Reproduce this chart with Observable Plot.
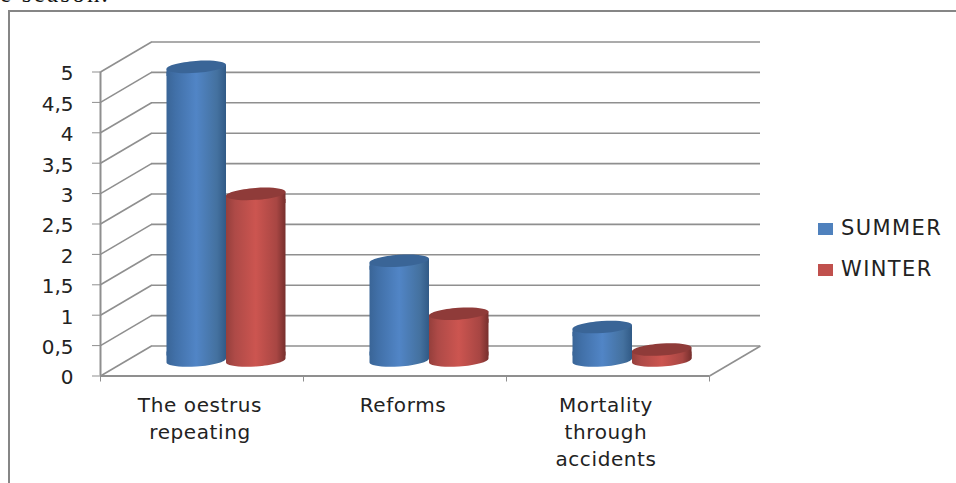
<!DOCTYPE html>
<html>
<head>
<meta charset="utf-8">
<script src="https://cdn.jsdelivr.net/npm/d3@7"></script>
<script src="https://cdn.jsdelivr.net/npm/@observablehq/plot@0.6"></script>
<style>
  html, body { margin: 0; padding: 0; background: #fff; overflow: hidden; }
  #page { position: relative; width: 956px; height: 483px; overflow: hidden; font-family: "DejaVu Sans", sans-serif; color: #222; }
  #above { position: absolute; left: 0; top: -20px; font: 25px "Liberation Serif", serif; letter-spacing: 2.2px; color: #111; white-space: pre; }
  #box { position: absolute; left: 8px; top: 10px; right: -4px; bottom: -4px; border: 2px solid #868686; }
  #plot { position: absolute; left: 0; top: 0; }
  #plot g[aria-label="text"] { letter-spacing: 0.6px; }
  .key { position: absolute; left: 818px; height: 24px; line-height: 24px; font-size: 21px; letter-spacing: 1.4px; white-space: nowrap; }
  .key i { display: inline-block; width: 15px; height: 12px; margin-right: 8px; }
</style>
</head>
<body>
<div id="page">
  <div id="above">e season.</div>
  <div id="box"></div>
  <div id="plot"></div>
  <div class="key" style="top:216px"><i style="background:#4f81bd"></i>SUMMER</div>
  <div class="key" style="top:257px"><i style="background:#c0504d"></i>WINTER</div>
</div>
<script>
// Three outcomes compared between the two seasons
const categories = ["The oestrus\nrepeating", "Reforms", "Mortality\nthrough\naccidents"];
const summer = [4.83, 1.64, 0.55];
const winter = [2.74, 0.77, 0.18];
const yTicks = [0, 0.5, 1, 1.5, 2, 2.5, 3, 3.5, 4, 4.5, 5];
const xTicks = [0, 1, 2, 3];

// Oblique projection: depth of the back wall, in data units of each axis
const depthX = 51 / 203;
const depthY = 30 / 60.8;
// Columns stand halfway into the depth
const midDx = 25, midDy = -15;
// Column width and the gap before the first column, in category units
const colW = 59.5 / 203;
const lead = 41.5 / 203;

const gridColor = "#8f8f8f";

// Outline helpers for a slightly tilted cylinder end
const tilt = -4 * Math.PI / 180;
const rot = (a, b) => [a * Math.cos(tilt) - b * Math.sin(tilt), a * Math.sin(tilt) + b * Math.cos(tilt)];
const K = 0.5522848;
const radius = size => Math.sqrt(size / Math.PI);
const side = 7;

// Full ellipse: the visible top of a cylinder
const ellipse = {
  draw(ctx, size) {
    const rx = radius(size), ry = rx * 0.2;
    ctx.moveTo(...rot(rx, 0));
    ctx.bezierCurveTo(...rot(rx, K * ry), ...rot(K * rx, ry), ...rot(0, ry));
    ctx.bezierCurveTo(...rot(-K * rx, ry), ...rot(-rx, K * ry), ...rot(-rx, 0));
    ctx.bezierCurveTo(...rot(-rx, -K * ry), ...rot(-K * rx, -ry), ...rot(0, -ry));
    ctx.bezierCurveTo(...rot(K * rx, -ry), ...rot(rx, -K * ry), ...rot(rx, 0));
    ctx.closePath();
  }
};

// Straight sides closing on the lower half of the ellipse: the foot of a cylinder
const foot = {
  draw(ctx, size) {
    const rx = radius(size), ry = rx * 0.2;
    const [xr, yr] = rot(rx, 0);
    const [xl, yl] = rot(-rx, 0);
    ctx.moveTo(xr, yr - side);
    ctx.lineTo(xr, yr);
    ctx.bezierCurveTo(...rot(rx, K * ry), ...rot(K * rx, ry), ...rot(0, ry));
    ctx.bezierCurveTo(...rot(-K * rx, ry), ...rot(-rx, K * ry), xl, yl);
    ctx.lineTo(xl, yr - side);
    ctx.closePath();
  }
};

// Straight sides hanging from the ellipse tips: fills the tilt under the top
const collar = {
  draw(ctx, size) {
    const rx = radius(size);
    const [xr, yr] = rot(rx, 0);
    const [xl, yl] = rot(-rx, 0);
    ctx.moveTo(xr, yr);
    ctx.lineTo(xr, yl + side);
    ctx.lineTo(xl, yl + side);
    ctx.lineTo(xl, yl);
    ctx.closePath();
  }
};

// Horizontal shading that makes a flat rectangle read as a cylinder
function gradients() {
  const defs = d3.create("svg:defs");
  const add = (id, stops) => {
    const g = defs.append("linearGradient").attr("id", id).attr("x1", 0).attr("x2", 1).attr("y1", 0).attr("y2", 0);
    stops.forEach(([o, c]) => g.append("stop").attr("offset", o).attr("stop-color", c));
  };
  add("shade-summer", [[0, "#3a6597"], [0.15, "#4170a8"], [0.5, "#5185c6"], [0.85, "#44719f"], [1, "#315a86"]]);
  add("shade-winter", [[0, "#953f3c"], [0.15, "#ae4a47"], [0.5, "#cc5550"], [0.85, "#a84643"], [1, "#772f2d"]]);
  return defs.node();
}

// One cylinder series: foot, shaded body, collar, darker top
function cylinders(values, slot, shade, top) {
  const left = (d, i) => i + lead + slot * colW;
  const mid = (d, i) => i + lead + (slot + 0.5) * colW;
  // Plot shifts dots half a pixel at this resolution but not rects; take it back out
  const dotDepth = { dx: midDx - 0.5, dy: midDy - 0.5 };
  const r = 29.82;
  return [
    Plot.dot(values, { x: mid, y: () => 0, r, symbol: foot, fill: shade, ...dotDepth }),
    Plot.rectY(values, {
      x1: left,
      x2: (d, i) => left(d, i) + colW,
      y1: () => 0,
      y2: d => d,
      fill: shade,
      insetTop: 5,
      insetBottom: 5,
      dx: midDx,
      dy: midDy
    }),
    Plot.dot(values, { x: mid, y: d => d, r, symbol: collar, fill: shade, ...dotDepth }),
    Plot.dot(values, { x: mid, y: d => d, r, symbol: ellipse, fill: top, ...dotDepth })
  ];
}

const chart = Plot.plot({
  width: 956,
  height: 483,
  marginLeft: 100,
  marginRight: 247,
  marginTop: 71.5,
  marginBottom: 107.5,
  style: { background: "transparent", overflow: "visible", fontFamily: "DejaVu Sans, sans-serif" },
  x: { domain: [0, 3], axis: null },
  y: { domain: [0, 5], axis: null },
  marks: [
    gradients,
    // Back wall grid
    Plot.ruleY(yTicks, { x1: depthX, x2: 3 + depthX, y: d => d + depthY, stroke: gridColor, strokeWidth: 1.6 }),
    // Side wall and floor edges
    Plot.link(yTicks, { x1: 0, y1: d => d, x2: depthX, y2: d => d + depthY, stroke: gridColor, strokeWidth: 1.6 }),
    Plot.link([3], { x1: d => d, y1: () => 0, x2: d => d + depthX, y2: () => depthY, stroke: gridColor, strokeWidth: 1.6 }),
    // Front axis lines
    Plot.ruleX([0], { y1: 0, y2: 5, stroke: gridColor, strokeWidth: 2 }),
    Plot.ruleY([0], { x1: 0, x2: 3, stroke: gridColor, strokeWidth: 2 }),
    // Tick marks and their labels, the labels nudged onto the tick's optical centre
    Plot.axisY({ ticks: yTicks, tickSize: 8, text: null, stroke: gridColor, label: null }),
    Plot.axisY({
      ticks: yTicks,
      tickSize: 0,
      tickPadding: 27,
      dy: 2,
      tickFormat: d => String(d).replace(".", ","),
      fill: "#222",
      fontSize: 20,
      label: null
    }),
    Plot.axisX({ ticks: xTicks, tickSize: 6, text: null, stroke: gridColor, label: null }),
    // Category labels under the floor
    Plot.text(categories, {
      x: (d, i) => i + 0.5,
      y: () => 0,
      text: d => d,
      dy: 17,
      dx: -2,
      lineAnchor: "top",
      lineHeight: 1.35,
      fontSize: 20,
      fill: "#222"
    }),
    ...cylinders(summer, 0, "url(#shade-summer)", "#3a6597"),
    ...cylinders(winter, 1, "url(#shade-winter)", "#8f3b39")
  ]
});
document.getElementById("plot").append(chart);
</script>
</body>
</html>
